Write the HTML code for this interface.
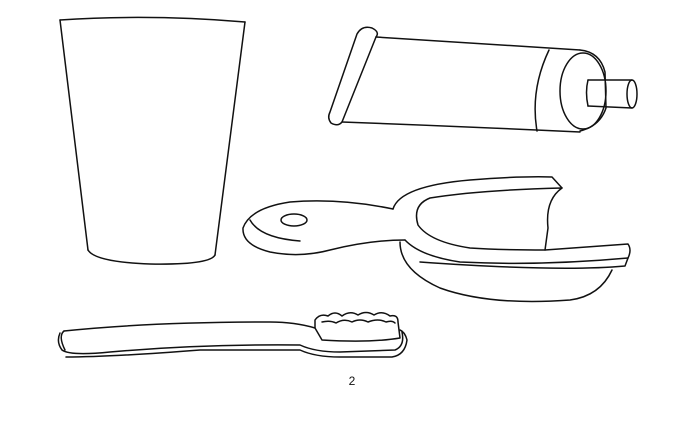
<!DOCTYPE html>
<html><head><style>
html,body{margin:0;padding:0;background:#fff;}
svg{display:block}
</style></head><body>
<svg width="697" height="427" viewBox="0 0 697 427" xmlns="http://www.w3.org/2000/svg" fill="none" stroke="#111" stroke-width="1.5" stroke-linecap="round" stroke-linejoin="round">
<!-- cup -->
<path d="M60 20 Q150 14 245 22"/>
<path d="M60 20 L88 250"/>
<path d="M245 22 L215 255"/>
<path d="M88 250 Q95 262 150 264 Q210 265 215 255"/>
<!-- toothpaste tube -->
<path d="M357 34 Q362 25 372 28 Q380 32 376 37 L342 122 Q338 127 331 123 Q327 118 330 112 Z"/>
<path d="M376 37 Q450 42 580 50"/>
<path d="M342 122 Q450 126 580 132"/>
<path d="M549 50 Q530 90 537 131"/>
<path d="M580 50 Q600 52 605 72 L606 108 Q600 126 580 131"/>
<ellipse cx="583" cy="91" rx="23" ry="38"/>
<path d="M588 80 Q585 92 588 106"/>
<path d="M588 80 L632 80"/>
<path d="M588 106 L632 108"/>
<ellipse cx="632" cy="94" rx="5" ry="14"/>
<!-- tray -->
<ellipse cx="294" cy="220" rx="13" ry="6"/>
<path d="M393 209 Q340 198 290 202 Q250 208 243 228 Q242 245 270 252 Q300 258 330 250 Q370 240 405 240"/>
<path d="M250 220 Q260 238 300 241"/>
<path d="M393 209 Q400 186 470 180 Q520 176 552 177 L562 188"/>
<path d="M405 240 Q420 256 460 262 Q540 266 628 258 L625 266 Q560 272 420 262"/>
<path d="M562 188 Q545 200 548 228 L545 250 Q500 250 470 248 Q430 242 418 225 Q412 205 430 198 Q480 190 562 188"/>
<path d="M400 242 Q400 270 440 288 Q490 306 570 300 Q600 296 612 270"/>
<path d="M545 250 L628 244 Q632 250 628 258"/>
<!-- toothbrush -->
<path d="M64 331 Q150 322 270 322 Q295 322 315 328"/>
<path d="M315 328 L315 320 Q320 313 328 316 Q335 310 342 316 Q350 310 358 315 Q366 310 374 315 Q382 310 390 316 Q398 314 398 322 L400 338 Q370 343 322 340 Z"/>
<path d="M322 322 Q330 320 336 323 Q344 318 352 322 Q360 318 368 322 Q378 318 386 322 Q392 320 395 323"/>
<path d="M60 333 Q56 342 62 350 Q70 356 110 352 Q200 344 300 345 Q315 352 340 352 L395 350 Q405 346 402 332"/>
<path d="M64 331 Q58 336 65 350"/>
<path d="M66 357 Q110 357 200 350 L300 350 Q315 357 340 357 L392 357 Q405 355 407 340 Q405 332 400 330"/>
<text x="352" y="385" font-family="Liberation Sans, sans-serif" font-size="12" fill="#111" stroke="none" text-anchor="middle">2</text>
</svg>
</body></html>
